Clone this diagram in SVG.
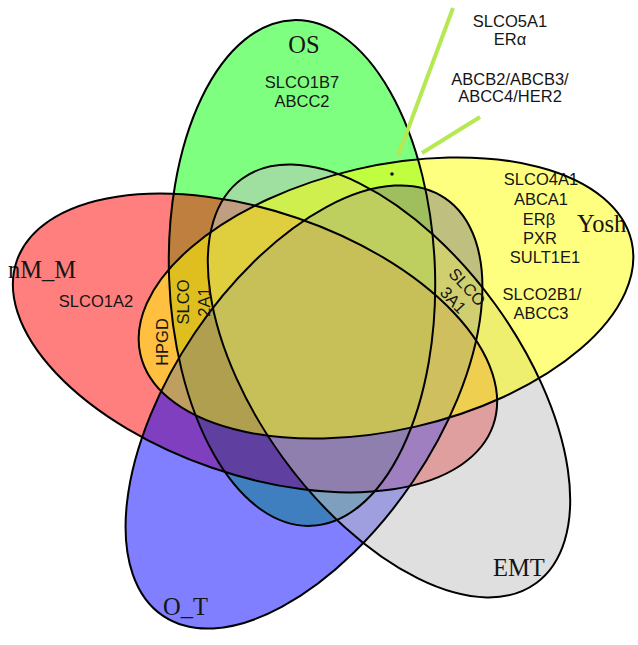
<svg xmlns="http://www.w3.org/2000/svg" width="638" height="645" viewBox="0 0 638 645">
<style>
.f{stroke:none}
.o{fill:none;stroke:#000;stroke-width:2}
.g{font-family:"Liberation Sans",Arial,sans-serif;font-size:16.5px;fill:#151515;text-anchor:middle}
.s{font-family:"Liberation Serif","Times New Roman",serif;font-size:24.5px;fill:#151515}
.c{stroke:#b5e853;stroke-width:4;stroke-linecap:butt;fill:none}
</style>
<defs>
<ellipse id="eG" cx="302" cy="273" rx="133" ry="253" transform="rotate(-2 302 273)"/>
<ellipse id="eR" cx="255" cy="343" rx="252" ry="132" transform="rotate(19 255 343)"/>
<ellipse id="eB" cx="304" cy="407" rx="252" ry="132" transform="rotate(-56 304 407)"/>
<ellipse id="eE" cx="389" cy="381" rx="250" ry="131" transform="rotate(54 389 381)"/>
<ellipse id="eY" cx="386" cy="298" rx="252" ry="132" transform="rotate(-13 386 298)"/>
</defs>
<rect width="638" height="645" fill="#fff"/>
<g id="OS">
<use href="#eG" class="f" fill="#00ff00" fill-opacity="0.5"/>
<text class="s" x="304" y="53" text-anchor="middle">OS</text>
<text class="g" x="302" y="88">SLCO1B7</text>
<text class="g" x="302" y="107">ABCC2</text>
</g>
<g id="nM_M">
<use href="#eR" class="f" fill="#ff0000" fill-opacity="0.5"/>
<text class="s" x="8" y="278">nM_M</text>
<text class="g" x="96" y="307">SLCO1A2</text>
</g>
<g id="O_T">
<use href="#eB" class="f" fill="#0000ff" fill-opacity="0.5"/>
<text class="s" x="163" y="615">O_T</text>
</g>
<g id="EMT">
<use href="#eE" class="f" fill="#c0c0c0" fill-opacity="0.5"/>
<text class="s" x="493" y="576">EMT</text>
</g>
<g id="Yosh">
<use href="#eY" class="f" fill="#ffff00" fill-opacity="0.5"/>
<text class="s" x="577" y="232">Yosh</text>
<text class="g" x="541" y="185">SLCO4A1</text>
<text class="g" x="541" y="205">ABCA1</text>
<text class="g" x="539" y="225">ERβ</text>
<text class="g" x="540" y="244">PXR</text>
<text class="g" x="545" y="263">SULT1E1</text>
<text class="g" x="542" y="300">SLCO2B1/</text>
<text class="g" x="541" y="319">ABCC3</text>
</g>
<g id="outlines">
<use href="#eG" class="o"/>
<use href="#eR" class="o"/>
<use href="#eB" class="o"/>
<use href="#eE" class="o"/>
<use href="#eY" class="o"/>
</g>
<g id="connectors">
<line class="c" x1="398" y1="156" x2="453" y2="8"/>
<line class="c" x1="422" y1="153" x2="480" y2="117"/>
<circle cx="392" cy="174" r="1.8" fill="#111"/>
</g>
<g id="region-labels">
<text class="g" x="510" y="27">SLCO5A1</text>
<text class="g" x="510" y="45">ERα</text>
<text class="g" x="510" y="85">ABCB2/ABCB3/</text>
<text class="g" x="510" y="102">ABCC4/HER2</text>
<text class="g" transform="translate(168 342) rotate(-90)">HPGD</text>
<text class="g" transform="translate(189 302) rotate(-90)">SLCO</text>
<text class="g" transform="translate(210 302) rotate(-90)">2A1</text>
<text class="g" transform="translate(463 291) rotate(47)">SLCO</text>
<text class="g" transform="translate(449 304) rotate(47)">3A1</text>
</g>
</svg>
